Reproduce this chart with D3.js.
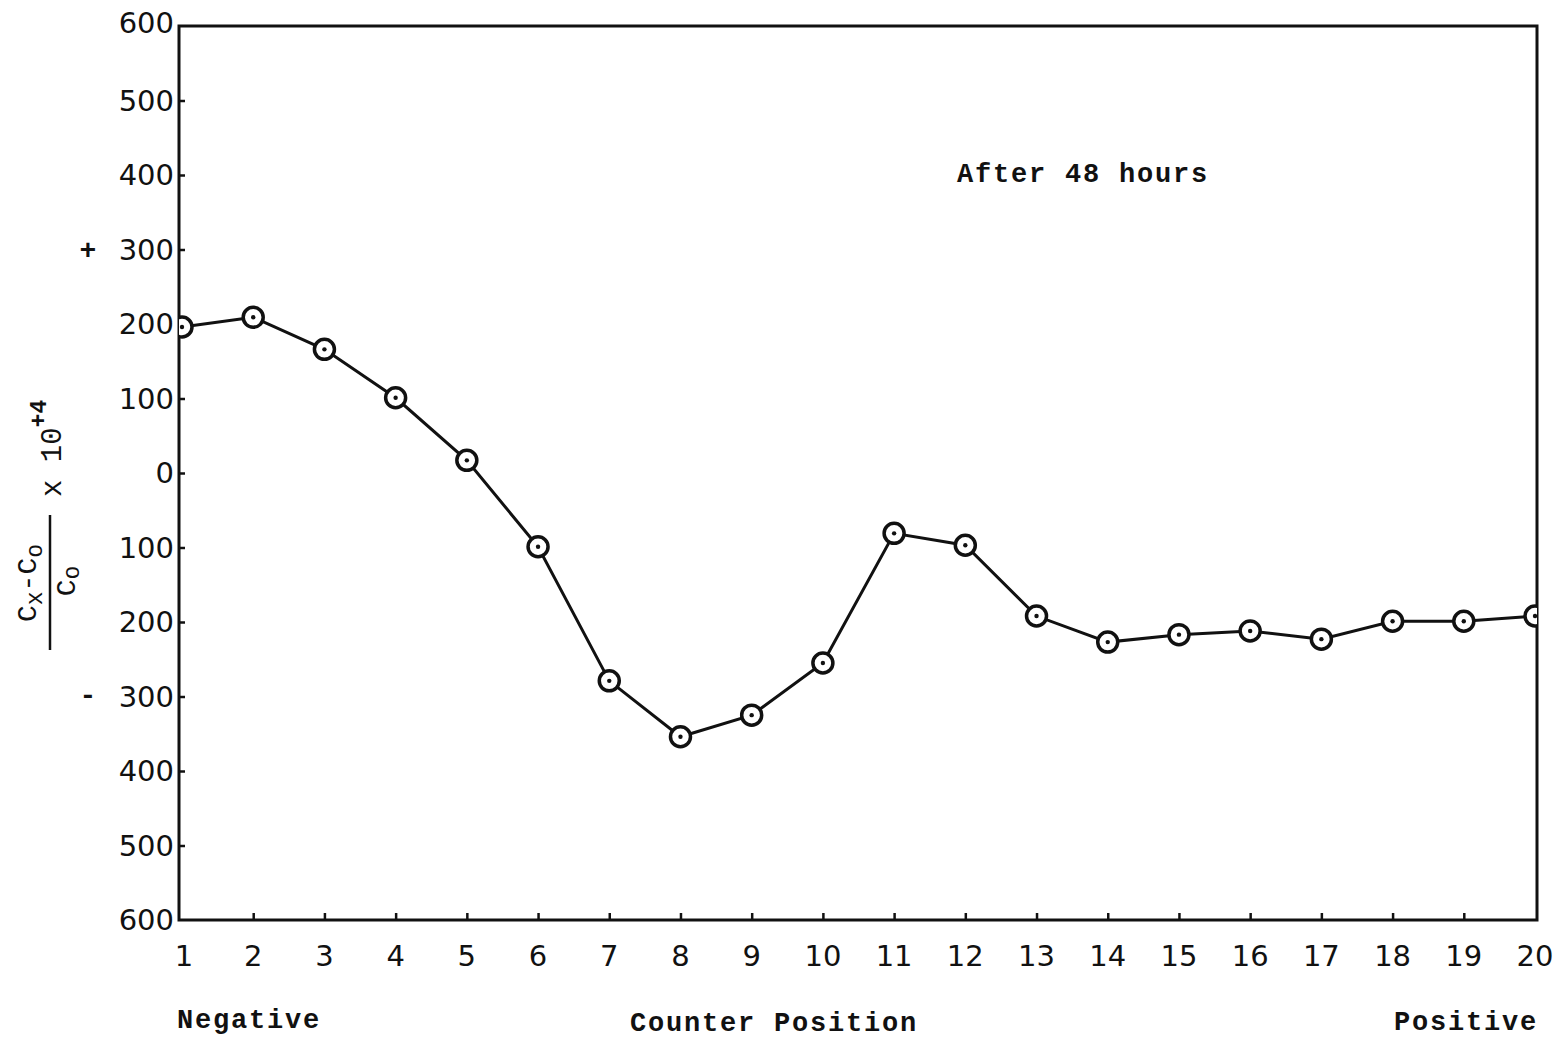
<!DOCTYPE html>
<html>
<head>
<meta charset="utf-8">
<script src="https://cdn.jsdelivr.net/npm/d3@7"></script>
<style>
  body { margin: 0; background: #fff; }
  svg { display: block; }
  .tick-lab { font-family: "DejaVu Sans", sans-serif; font-size: 29px; fill: #111; }
  .type { font-family: "Liberation Mono", "Courier New", monospace; font-weight: bold; fill: #111; }
</style>
</head>
<body>
<svg width="1567" height="1041"></svg>
<script>
// counter positions and readings (Cx-Co)/Co x 10^4, after 48 hours
var positions = [1,2,3,4,5,6,7,8,9,10,11,12,13,14,15,16,17,18,19,20];
var values = [196,209,166,101,17,-99,-279,-354,-325,-255,-81,-97,-192,-227,-217,-212,-223,-199,-199,-192];
var yTicks = [600,500,400,300,200,100,0,-100,-200,-300,-400,-500,-600];

var svg = d3.select("svg"),
    plotL = 179, plotR = 1537, plotT = 26, plotB = 920;

var x = d3.scaleLinear().domain([1, 20]).range([182, 1535]);
var y = d3.scaleLinear().domain([-600, 600]).range([plotB, plotT]);

svg.append("clipPath").attr("id", "plotclip")
  .append("rect")
    .attr("x", plotL).attr("y", plotT)
    .attr("width", plotR - plotL).attr("height", plotB - plotT);

// frame
svg.append("rect")
    .attr("x", plotL).attr("y", plotT)
    .attr("width", plotR - plotL).attr("height", plotB - plotT)
    .attr("fill", "none").attr("stroke", "#111").attr("stroke-width", 3);

// y ticks (inward) + labels shown as absolute values
var yAxis = d3.axisRight(y).tickValues(yTicks.slice(1, 12)).tickSize(6).tickFormat("");
svg.append("g").attr("transform", "translate(" + plotL + ",0)").call(yAxis)
  .call(g => g.select(".domain").remove())
  .call(g => g.selectAll("line").attr("stroke", "#111").attr("stroke-width", 2.5));

svg.selectAll(".ylab").data(yTicks).join("text")
    .attr("class", "tick-lab")
    .attr("x", 174)
    .attr("y", d => y(d) + (d === 600 ? 7 : 10))
    .attr("text-anchor", "end")
    .text(d => Math.abs(d));

// x ticks (inward) + labels
var xAxis = d3.axisTop(x).tickValues(positions.slice(1, 19)).tickSize(7).tickFormat("");
svg.append("g").attr("transform", "translate(0," + plotB + ")").call(xAxis)
  .call(g => g.select(".domain").remove())
  .call(g => g.selectAll("line").attr("stroke", "#111").attr("stroke-width", 2.5));

svg.selectAll(".xlab").data(positions).join("text")
    .attr("class", "tick-lab")
    .attr("x", d => d === 1 ? 184 : x(d))
    .attr("y", 966)
    .attr("text-anchor", "middle")
    .text(d => d);

// sign marks
svg.append("text").attr("class", "type").attr("x", 88).attr("y", 259)
    .attr("text-anchor", "middle").style("font-size", "28px").text("+");
svg.append("text").attr("class", "type").attr("x", 88).attr("y", 704)
    .attr("text-anchor", "middle").style("font-size", "28px").text("-");

// data line and markers
var plot = svg.append("g").attr("clip-path", "url(#plotclip)");
var line = d3.line().x((d, i) => x(positions[i])).y(d => y(d));
plot.append("path").datum(values)
    .attr("d", line)
    .attr("fill", "none").attr("stroke", "#111").attr("stroke-width", 3);

var pts = plot.selectAll(".pt").data(values).join("g")
    .attr("transform", (d, i) => "translate(" + x(positions[i]) + "," + y(d) + ")");
pts.append("circle").attr("r", 10).attr("fill", "#fff").attr("stroke", "#111").attr("stroke-width", 3.5);
pts.append("circle").attr("r", 2.2).attr("fill", "#111");

// annotation
svg.append("text").attr("class", "type").attr("x", 957).attr("y", 182)
    .style("font-size", "27px").style("letter-spacing", "1.8px").text("After 48 hours");

// bottom labels
svg.append("text").attr("class", "type").attr("x", 177).attr("y", 1028)
    .style("font-size", "27px").style("letter-spacing", "1.8px").text("Negative");
svg.append("text").attr("class", "type").attr("x", 774).attr("y", 1031)
    .attr("text-anchor", "middle")
    .style("font-size", "27px").style("letter-spacing", "1.8px").text("Counter Position");
svg.append("text").attr("class", "type").attr("x", 1538).attr("y", 1030)
    .attr("text-anchor", "end")
    .style("font-size", "27px").style("letter-spacing", "1.8px").text("Positive");

// y axis label: (Cx - Co)/Co x 10^+4, rotated
var yl = svg.append("g").attr("transform", "translate(50,585) rotate(-90)");
yl.append("line").attr("x1", -65).attr("x2", 70).attr("y1", 0).attr("y2", 0)
    .attr("stroke", "#111").attr("stroke-width", 2.5);
var num = yl.append("text").attr("class", "type").attr("x", 2).attr("y", -14)
    .attr("text-anchor", "middle").style("font-size", "28px").style("font-weight", "normal");
num.append("tspan").text("C");
num.append("tspan").attr("dy", 6).style("font-size", "23px").text("x");
num.append("tspan").attr("dy", -6).text("-C");
num.append("tspan").attr("dy", 6).style("font-size", "23px").text("o");
var den = yl.append("text").attr("class", "type").attr("x", 4).attr("y", 25)
    .attr("text-anchor", "middle").style("font-size", "28px").style("font-weight", "normal");
den.append("tspan").text("C");
den.append("tspan").attr("dy", 4).style("font-size", "23px").text("o");
var mult = yl.append("text").attr("class", "type").attr("x", 88).attr("y", 11)
    .style("font-size", "29px").style("font-weight", "normal");
mult.append("tspan").text("x 10");
mult.append("tspan").attr("dy", -15).style("font-size", "23px").style("font-weight", "bold").text("+4");
</script>
</body>
</html>
